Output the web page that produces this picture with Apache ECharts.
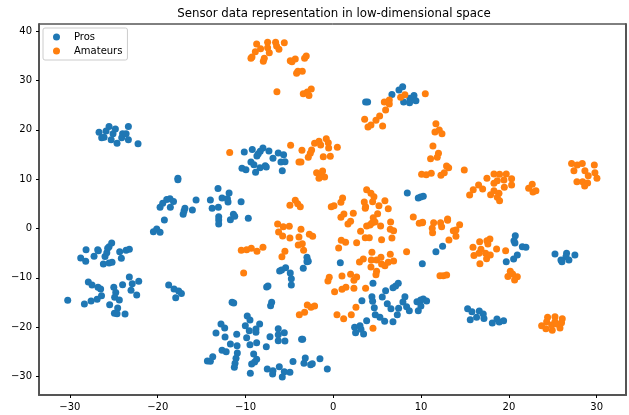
<!DOCTYPE html>
<html>
<head>
<meta charset="utf-8">
<title>Sensor data</title>
<script src="https://cdn.jsdelivr.net/npm/echarts@6/dist/echarts.min.js"></script>
<style>
    html, body { margin: 0; padding: 0; background: #fff; }
    #chart { width: 629px; height: 415px; }
</style>
</head>
<body>
<div id="chart"></div>
<script>
var xTicks = [-30, -20, -10, 0, 10, 20, 30];
var yTicks = [-30, -20, -10, 0, 10, 20, 30, 40];

var prosPoints = [
    // top left
    [-26.68,19.5],[-26.38,18.4],[-26.11,18.5],[-25.88,19.8],[-25.54,20.7],[-25.3,18.0],[-25.09,19.2],[-24.82,20.2],
    [-24.63,17.3],[-24.1,18.4],[-24.0,19.2],[-23.6,19.2],[-23.34,20.7],[-23.34,18.0],[-22.24,17.2],
    // middle left
    [-17.7,10.2],[-17.7,9.9],[-19.73,4.3],[-19.43,5.1],[-18.97,5.9],[-18.6,6.05],[-18.2,5.5],[-18.56,4.3],
    [-16.9,4.1],[-16.05,3.75],[-15.63,5.8],[-14.0,5.8],[-13.8,4.1],[-13.09,4.3],[-13.13,8.1],[-12.67,6.2],
    [-12.06,6.05],[-11.87,7.2],[-11.99,5.4],[-10.5,5.44],[-17.1,2.9],[-17.0,3.55],[-19.24,1.73],[-20.49,-0.64],
    [-20.11,-0.1],[-19.73,-0.77],[-13.05,2.4],[-13.05,1.73],[-13.05,0.92],[-11.72,1.8],[-11.38,2.9],[-11.23,2.47],
    [-9.68,2.06],
    // bottom left
    [-28.16,-4.29],[-28.77,-5.98],[-28.2,-6.66],[-27.25,-5.64],[-26.83,-4.29],[-26.76,-4.49],[-26.19,-7.2],[-26.0,-5.7],
    [-25.8,-4.9],[-25.7,-4.0],[-25.54,-3.7],[-25.24,-2.94],[-25.54,-7.0],[-25.2,-6.86],[-24.33,-4.7],[-24.14,-6.05],
    [-23.6,-4.4],[-23.23,-4.2],[-27.9,-10.85],[-27.48,-11.46],[-26.8,-11.93],[-26.5,-12.27],[-26.4,-13.62],[-26.9,-14.36],
    [-27.59,-14.7],[-28.35,-15.3],[-30.25,-14.57],[-25.47,-15.45],[-25.0,-11.93],[-24.78,-13.0],[-24.9,-13.96],[-24.37,-14.5],
    [-24.56,-16.1],[-24.93,-17.2],[-24.63,-17.27],[-23.72,-17.34],[-24.0,-11.4],[-23.23,-9.83],[-22.9,-11.2],[-23.04,-12.54],
    [-22.16,-10.71],[-22.39,-13.48],[-18.75,-11.46],[-18.14,-12.27],[-17.61,-12.67],[-17.3,-13.2],[-17.95,-14.03],
    // bottom middle
    [-11.53,-14.97],[-11.34,-15.1],[-12.79,-19.37],[-12.37,-20.18],[-13.36,-21.19],[-12.33,-22.0],[-11.0,-21.46],[-11.72,-23.42],
    [-10.96,-23.76],[-12.67,-24.7],[-12.2,-24.98],[-13.73,-25.99],[-14.34,-26.87],[-14.0,-26.94],[-10.93,-25.25],[-11.08,-26.33],
    [-11.19,-27.35],[-11.27,-28.16],[-10.02,-19.71],[-9.8,-17.75],[-9.49,-18.56],[-8.39,-19.37],[-9.57,-20.72],[-8.81,-20.4],
    [-8.81,-21.06],[-9.87,-22.14],[-9.49,-23.56],[-8.73,-23.16],[-7.21,-21.94],[-7.63,-23.97],[-6.27,-20.32],[-6.27,-21.54],
    [-6.27,-22.75],[-5.58,-21.13],[-5.51,-22.82],[-3.61,-22.48],[-3.49,-22.48],[-9.07,-25.46],[-8.73,-26.54],[-8.96,-27.08],
    [-9.3,-27.5],[-9.45,-29.38],[-7.52,-28.5],[-6.87,-28.84],[-6.91,-29.5],[-6.15,-28.03],[-5.58,-29.04],[-5.81,-30.12],
    [-4.94,-29.18],[-4.59,-27.0],[-3.34,-27.35],[-3.19,-26.27],[-2.58,-27.62],[-2.39,-27.42],[-1.52,-26.4],[-0.68,-28.5],
    // centre
    [-6.11,-8.62],[-5.89,-8.42],[-5.43,-7.95],[-4.9,-9.03],[-4.78,-10.18],[-4.78,-11.46],[-7.59,-11.87],[-7.44,-11.66],
    [-7.02,-14.98],[-7.14,-15.65],[-3.42,-8.08],[-3.0,-5.85],[-2.96,-6.39],[-2.85,-6.66],[-3.0,-6.73],
    [0.8,-6.93],[4.52,-11.12],[5.96,-12.61],[6.8,-12.0],[7.1,-11.66],[7.4,-11.12],[10.14,-7.13],[11.69,-4.7],
    [3.26,-14.64],[4.4,-13.83],[4.48,-14.77],[4.67,-16.06],[5.58,-13.9],[6.15,-15.25],[6.57,-16.26],[7.44,-16.19],
    [7.29,-17.48],[6.8,-18.9],[8.16,-13.83],[7.93,-14.91],[8.35,-15.86],[8.66,-16.67],[9.53,-14.84],[9.95,-14.5],
    [10.25,-14.3],[10.63,-14.7],[9.98,-15.72],[9.68,-16.67],[4.78,-17.48],[5.31,-18.02],[5.85,-18.83],[3.8,-18.7],
    [2.43,-20.05],[3.04,-19.71],[3.15,-20.45],[2.54,-21.13],[3.45,-21.4],
    // upper middle
    [-10.14,15.5],[-9.23,16.05],[-8.01,16.33],[-8.32,15.65],[-8.54,15.18],[-8.7,14.7],[-7.33,15.72],[-6.27,15.31],
    [-5.66,14.97],[-6.87,14.23],[-9.38,13.49],[-9.04,12.95],[-10.4,12.2],[-9.95,11.93],[-8.35,12.34],[-7.75,12.74],
    [-7.63,12.47],[-8.85,11.39],[-5.96,13.49],[-5.5,13.55],[-5.81,11.73],[8.43,7.2],[9.68,6.18],[9.95,6.39],[10.25,6.52],
    [3.68,25.66],[3.91,25.66],[6.68,27.2],[7.48,28.09],[7.9,28.77],[9.19,27.0],[8.73,26.4],[9.0,26.4],[8.01,25.66],
    [8.69,25.52],[9.41,25.93],
    // right
    [12.45,-3.62],[20.73,-1.46],[20.58,-2.47],[20.69,-2.95],[21.53,-3.69],[21.94,-3.82],[20.96,-5.38],[20.54,-6.19],
    [19.7,-6.73],[25.25,-5.18],[26.57,-5.04],[26.5,-5.72],[26.84,-6.39],[27.52,-5.38],[25.93,-6.39],[26.04,-6.73],
    [15.3,-16.27],[15.79,-16.87],[15.6,-18.5],[16.32,-18.02],[16.63,-16.74],[17.08,-17.35],[17.16,-18.23],[18.11,-19.17],
    [18.64,-18.36],[18.9,-18.97],[19.4,-18.7]
];

var amateursPoints = [
    // top
    [-8.73,37.42],[-8.28,36.48],[-8.88,35.87],[-7.48,37.76],[-7.48,36.68],[-7.29,35.66],[-6.57,37.76],[-6.46,37.02],
    [-6.19,36.34],[-5.58,37.69],[-9.38,34.51],[-9.26,34.79],[-7.97,33.91],[-7.86,34.51],[-4.9,34.04],[-4.71,33.84],
    [-4.33,34.38],[-3.27,34.51],[-3.08,34.99],[-4.18,31.47],[-4.03,31.88],[-3.53,31.88],[-6.42,27.75],[-3.42,27.35],
    [-2.96,27.69],[-2.51,28.29],[-2.77,27.0],
    // middle
    [-11.8,15.4],[-4.86,16.87],[-3.57,15.85],[-2.47,15.92],[-2.62,15.25],[-2.85,14.43],[-3.91,13.49],[-3.68,13.49],
    [-2.13,17.27],[-1.63,17.68],[-1.44,16.93],[-0.8,18.22],[-0.57,17.41],[-0.53,16.33],[0.46,16.46],[-1.14,14.57],
    [-0.34,14.64],[-1.9,11.32],[-1.22,11.66],[-1.63,10.17],[-0.99,10.44],[-1.44,10.98],
    // upper right
    [10.48,27.35],[8.16,27.14],[7.67,26.6],[6.38,26.06],[5.81,25.66],[6.38,25.25],[5.96,24.03],[5.28,22.82],[4.86,21.94],
    [3.57,22.14],[3.95,20.59],[4.29,20.99],[5.62,20.79],[11.69,21.26],[11.58,19.57],[12.07,19.98],[12.38,19.23],
    [11.35,16.73],[11.98,15.24],[11.84,14.43],[11.08,14.16],[12.9,12.68],[13.14,12.34],[12.64,11.32],[12.26,10.78],
    [11.16,11.19],[10.59,10.92],[10.06,10.99],[14.92,11.86],[17.5,10.17],[18.3,11.05],[18.94,10.99],[19.7,11.05],
    [20.31,10.11],[20.31,8.82],[19.44,9.84],[19.48,8.35],[18.68,9.7],[18.3,9.16],[18.3,7.67],[17.92,6.86],[18.87,7.13],
    [18.68,6.32],[18.94,5.64],[16.55,8.82],[17.01,8.01],[15.94,7.88],[15.53,6.79],[22.66,8.96],[22.25,8.15],[22.74,7.4],
    [23.08,7.67],[27.14,13.21],[27.41,11.73],[27.79,12.88],[28.36,13.21],[29.73,12.88],[28.66,11.73],[29.04,10.71],
    [29.8,11.32],[30.03,10.17],[27.75,9.5],[28.4,9.5],[28.97,9.23],[28.63,8.62],
    // right
    [10.14,1.18],[11.43,1.18],[11.27,0.03],[11.31,-0.85],[12.22,1.18],[12.34,0.37],[13.02,1.93],[13.02,1.65],[14.39,0.78],
    [13.67,-0.44],[13.97,-0.3],[13.97,-1.59],[13.17,-2.33],[16.67,-2.67],[17.84,-2.13],[17.5,-2.47],[17.61,-3.15],
    [15.91,-3.82],[16.02,-5.45],[16.59,-5.04],[16.82,-4.23],[17.35,-5.04],[17.46,-6.12],[17.88,-5.38],[18.6,-4.16],
    [19.63,-4.5],[16.7,-7.14],[20.16,-8.69],[19.89,-9.71],[20.96,-9.77],[20.65,-10.45],[20.42,-9.23],[12.15,-9.57],
    [12.53,-9.57],[12.91,-9.44],
    // lower right
    [24.41,-18.02],[24.3,-18.9],[25.25,-17.89],[25.25,-18.9],[26.08,-18.29],[26.0,-19.1],[23.73,-19.71],[24.22,-20.32],
    [24.94,-20.66],[24.87,-19.58],[25.82,-20.19],[25.44,-19.37],
    // centre
    [-4.94,4.7],[-4.33,5.71],[-4.06,5.04],[-3.76,4.43],[-0.23,4.43],[0.08,4.63],[0.87,5.31],[1.06,6.18],[3.8,7.87],
    [4.29,7.13],[4.63,6.45],[3.53,5.38],[4.48,5.44],[5.88,5.64],[5.2,4.63],[6.26,4.02],[3.68,4.43],[0.87,2.26],[1.21,2.94],
    [2.28,3.08],[1.67,0.91],[1.97,1.45],[3.64,4.09],[5.05,3.01],[4.55,2.2],[4.37,1.05],[4.75,1.32],[3.8,0.51],[3.11,-0.58],
    [4.18,0.71],[5.39,0.51],[6.53,1.32],[6.49,-0.17],[6.87,-0.44],[6.68,-1.93],[5.5,-2.27],[3.64,-1.86],[4.1,-1.86],
    [2.66,-2.87],[0.91,-2.4],[1.4,-2.81],[0.61,-3.96],[9.11,2.33],[9.79,1.05],[10.17,1.25],[8.35,-4.7],[4.4,-4.84],
    [6.49,-5.24],[3.42,-6.19],[2.98,-6.8],[4.33,-6.39],[4.93,-6.39],[5.43,-5.85],[6.87,-6.59],[5.5,-7.2],[5.88,-7.54],
    [6.26,-6.86],[4.29,-7.81],[4.93,-8.69],[4.86,-9.37],[1.97,-9.3],[2.66,-9.84],[2.35,-10.51],[0.99,-9.64],[-0.46,-9.91],
    [-0.61,-10.65],[2.35,-12.14],[3.68,-12.14],[1.44,-11.93],[0.99,-12.34],[0.15,-12.81],[2.58,-15.99],[2.05,-17.48],
    [0.42,-17.48],[1.18,-18.29],[4.52,-20.25],
    // left of centre
    [-6.34,0.91],[-5.7,0.37],[-5.01,0.44],[-6.23,-0.71],[-5.77,-1.52],[-4.94,-1.93],[-3.68,-0.17],[-3.91,-1.73],
    [-2.73,-1.18],[-2.35,-1.59],[-3.53,-3.08],[-3.99,-3.35],[-3.38,-4.43],[-5.51,-4.63],[-5.85,-5.71],[-10.48,-4.43],
    [-9.87,-4.29],[-9.34,-4.02],[-8.69,-4.63],[-8.01,-3.82],[-10.21,-9.03],[-2.96,-15.52],[-2.54,-15.99],[-2.13,-15.72],
    [-3.27,-17.0],[-3.87,-17.48]
];

var fontName = 'DejaVu Sans';
var spineColor = '#555';
var chart = echarts.init(document.getElementById('chart'), null, { renderer: 'canvas' });

// matplotlib style minus sign on the tick labels
function tickLabel(v) {
    return String(v).replace('-', '\u2212');
}

var option = {
    animation: false,
    backgroundColor: '#fff',
    textStyle: { fontFamily: fontName },
    title: {
        text: 'Sensor data representation in low-dimensional space',
        left: 329, top: 3, textAlign: 'center',
        textStyle: { fontFamily: fontName, fontSize: 11.8, fontWeight: 'normal', color: '#000' }
    },
    legend: {
        left: 43, top: 28,
        orient: 'vertical',
        icon: 'circle',
        itemWidth: 7, itemHeight: 7,
        itemGap: 4,
        padding: [4, 5, 4, 10],
        backgroundColor: '#fff',
        borderColor: '#ccc', borderWidth: 1, borderRadius: 2,
        textStyle: { fontFamily: fontName, fontSize: 10, color: '#000', padding: [0, 0, 0, 9] },
        data: ['Pros', 'Amateurs']
    },
    grid: {
        left: 39, right: 3, top: 24, bottom: 20,
        show: true, borderColor: '#000', borderWidth: 1
    },
    xAxis: {
        type: 'value', min: -33.52, max: 33.34,
        splitLine: { show: false },
        axisLine: { onZero: false, lineStyle: { color: spineColor, width: 2 } },
        axisTick: { customValues: xTicks, length: 3, lineStyle: { color: '#000' } },
        axisLabel: { customValues: xTicks, color: '#000', fontSize: 10, margin: 7, formatter: tickLabel }
    },
    yAxis: [
        {
            type: 'value', min: -33.77, max: 41.48,
            splitLine: { show: false },
            axisLine: { onZero: false, lineStyle: { color: spineColor, width: 2 } },
            axisTick: { customValues: yTicks, length: 3, lineStyle: { color: '#000' } },
            axisLabel: { customValues: yTicks, color: '#000', fontSize: 10, margin: 7, formatter: tickLabel }
        },
        {
            // right spine only
            type: 'value', position: 'right', min: -33.77, max: 41.48,
            splitLine: { show: false },
            axisLine: { show: true, onZero: false, lineStyle: { color: spineColor, width: 2 } },
            axisTick: { show: false },
            axisLabel: { show: false }
        }
    ],
    series: [
        { name: 'Pros', type: 'scatter', symbolSize: 7, data: prosPoints, itemStyle: { color: '#1f77b4', opacity: 1 } },
        { name: 'Amateurs', type: 'scatter', symbolSize: 7, data: amateursPoints, itemStyle: { color: '#ff7f0e', opacity: 1 } }
    ]
};
chart.setOption(option);
</script>
</body>
</html>
